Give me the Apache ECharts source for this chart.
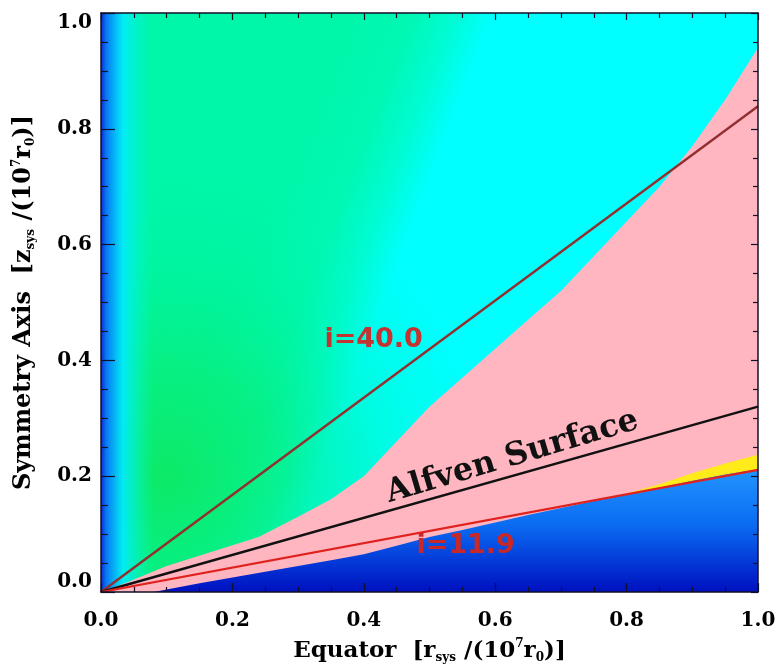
<!DOCTYPE html>
<html>
<head>
<meta charset="utf-8">
<script src="https://cdn.jsdelivr.net/npm/echarts@6/dist/echarts.min.js"></script>
<style>
html,body{margin:0;padding:0;background:#fff;}
#chart{width:781px;height:667px;}
</style>
</head>
<body>
<div id="chart"></div>
<script>
// ---- data ----
var xTicks = [0.0, 0.2, 0.4, 0.6, 0.8, 1.0];
var yTicks = [0.0, 0.2, 0.4, 0.6, 0.8, 1.0];
// full-domain background extent
var bgX = [0, 1];
var bgY = [1, 1];
// thin strip along the symmetry axis
var stripX = [0, 0.08];
var stripY = [1, 1];
// upper boundary of the pink region
var pinkX = [0, 0.04, 0.10, 0.17, 0.24, 0.30, 0.35, 0.40, 0.45, 0.50, 0.55, 0.60, 0.65, 0.70, 0.75, 0.80, 0.85, 0.90, 0.95, 1.00];
var pinkY = [0, 0.017, 0.045, 0.07, 0.095, 0.13, 0.16, 0.20, 0.26, 0.32, 0.37, 0.42, 0.47, 0.52, 0.58, 0.64, 0.70, 0.77, 0.85, 0.94];
// upper boundary of the yellow sliver
var yellowX = [0.76, 0.80, 0.85, 0.90, 0.95, 1.00];
var yellowY = [0.158, 0.170, 0.186, 0.205, 0.222, 0.237];
// upper boundary of the blue region
var blueX = [0.08, 0.15, 0.20, 0.25, 0.30, 0.35, 0.40, 0.45, 0.50, 0.55, 0.60, 0.65, 0.70, 0.75, 0.80, 0.85, 0.90, 0.95, 1.00];
var blueY = [0, 0.015, 0.025, 0.035, 0.045, 0.055, 0.065, 0.08, 0.095, 0.107, 0.12, 0.133, 0.145, 0.157, 0.168, 0.18, 0.192, 0.203, 0.212];
// straight lines through the origin
var lineX = [0, 1];
var line40Y = [0, 0.839];
var alfvenY = [0, 0.32];
var line119Y = [0, 0.211];

function pairs(xs, ys) { return xs.map(function (x, i) { return [x, ys[i]]; }); }

var chart = echarts.init(document.getElementById('chart'), null, {renderer: 'canvas'});

var tickFont = {fontFamily: 'DejaVu Serif', fontWeight: 'bold', fontSize: 20, color: '#000'};
var richName = {
  s: {fontFamily: 'DejaVu Serif', fontWeight: 'bold', fontSize: 12, verticalAlign: 'bottom', color: '#000'},
  p: {fontFamily: 'DejaVu Serif', fontWeight: 'bold', fontSize: 12, verticalAlign: 'top', color: '#000'}
};
var axisColor = '#101028';

function areaSeries(name, data, fill) {
  return {
    name: name, type: 'line', data: data, showSymbol: false, symbol: 'none',
    silent: true, lineStyle: {width: 0, opacity: 0},
    areaStyle: {color: fill, opacity: 1, origin: 'start'},
    z: 1
  };
}
function labelPoint(text, coord, style) {
  return {
    symbol: 'circle', symbolSize: 1, itemStyle: {color: 'rgba(0,0,0,0)'}, silent: true,
    label: Object.assign({show: true, position: 'inside', formatter: text}, style),
    data: [{coord: coord}]
  };
}

var option = {
  animation: false,
  backgroundColor: '#fff',
  grid: {left: 101, right: 23, top: 13, bottom: 75, containLabel: false, outerBoundsMode: 'none'},
  xAxis: [{
    type: 'value', min: 0, max: 1, interval: 0.2, position: 'bottom',
    axisLine: {show: true, onZero: false, lineStyle: {color: axisColor, width: 1.5}},
    axisTick: {show: true, inside: true, length: 9, lineStyle: {color: axisColor, width: 1.2}},
    minorTick: {show: true, splitNumber: 4, length: 5, lineStyle: {color: axisColor, width: 1.2}},
    splitLine: {show: false},
    axisLabel: Object.assign({margin: 19, formatter: function (v) { return v.toFixed(1); }}, tickFont),
    name: 'Equator  [r{s|sys} /(10{p|7}r{s|0})]',
    nameLocation: 'middle', nameGap: 46,
    nameTextStyle: {fontFamily: 'DejaVu Serif', fontWeight: 'bold', fontSize: 23, color: '#000', lineHeight: 26, rich: richName},
    z: 10
  }, {
    type: 'value', min: 0, max: 1, interval: 0.2, position: 'top',
    axisLine: {show: true, onZero: false, lineStyle: {color: axisColor, width: 1.5}},
    axisTick: {show: true, inside: true, length: 7, lineStyle: {color: axisColor, width: 1.2}},
    minorTick: {show: true, splitNumber: 4, length: 5, lineStyle: {color: axisColor, width: 1.2}},
    splitLine: {show: false}, axisLabel: {show: false}, z: 10
  }],
  yAxis: [{
    type: 'value', min: 0, max: 1, interval: 0.2, position: 'left',
    axisLine: {show: true, onZero: false, lineStyle: {color: axisColor, width: 1.5}},
    axisTick: {show: true, inside: true, length: 14, lineStyle: {color: axisColor, width: 1.2}},
    minorTick: {show: true, splitNumber: 4, length: 7, lineStyle: {color: axisColor, width: 1.2}},
    splitLine: {show: false},
    axisLabel: Object.assign({margin: 9, verticalAlignMinLabel: 'bottom', verticalAlignMaxLabel: 'top',
      formatter: function (v) { return v.toFixed(1); }}, tickFont),
    name: 'Symmetry Axis  [z{s|sys} /(10{p|7}r{s|0})]',
    nameLocation: 'middle', nameGap: 64,
    nameTextStyle: {fontFamily: 'DejaVu Serif', fontWeight: 'bold', fontSize: 24, color: '#000', lineHeight: 26, rich: richName},
    z: 10
  }, {
    type: 'value', min: 0, max: 1, interval: 0.2, position: 'right',
    axisLine: {show: true, onZero: false, lineStyle: {color: axisColor, width: 1.5}},
    axisTick: {show: true, inside: true, length: 7, lineStyle: {color: axisColor, width: 1.2}},
    minorTick: {show: true, splitNumber: 4, length: 5, lineStyle: {color: axisColor, width: 1.2}},
    splitLine: {show: false}, axisLabel: {show: false}, z: 10
  }],
  series: [
    areaSeries('background', pairs(bgX, bgY), new echarts.graphic.LinearGradient(0.2, 0.5, 0.626, 0.684, [
      {offset: 0, color: '#00f6a8'},
      {offset: 0.22, color: '#00f8b4'},
      {offset: 0.36, color: '#00fcd6'},
      {offset: 0.47, color: '#00ffff'},
      {offset: 1, color: '#00ffff'}
    ])),
    areaSeries('greenGlow', pairs(bgX, bgY), new echarts.graphic.RadialGradient(0.1, 0.8, 0.55, [
      {offset: 0, color: 'rgba(14,232,96,0.9)'},
      {offset: 0.35, color: 'rgba(10,236,112,0.65)'},
      {offset: 0.7, color: 'rgba(0,242,140,0.22)'},
      {offset: 1, color: 'rgba(0,248,170,0)'}
    ])),
    areaSeries('axisStrip', pairs(stripX, stripY), new echarts.graphic.LinearGradient(0, 0, 1, 0, [
      {offset: 0, color: 'rgba(10,45,210,1)'},
      {offset: 0.1, color: 'rgba(10,120,245,1)'},
      {offset: 0.42, color: 'rgba(0,235,255,0.9)'},
      {offset: 1, color: 'rgba(0,250,200,0)'}
    ])),
    areaSeries('pink', pairs(pinkX, pinkY), '#ffb6c1'),
    areaSeries('yellow', pairs(yellowX, yellowY), '#ffea1a'),
    areaSeries('blue', pairs(blueX, blueY), new echarts.graphic.LinearGradient(0, 0, 0, 1, [
      {offset: 0, color: '#2294ff'},
      {offset: 0.45, color: '#0a6cf2'},
      {offset: 1, color: '#0010c0'}
    ])),
    {
      name: 'i=40.0', type: 'line', data: pairs(lineX, line40Y), showSymbol: false, symbol: 'none',
      lineStyle: {color: '#922f2f', width: 2.4}, z: 5, silent: true,
      markPoint: labelPoint('i=40.0', [0.415, 0.436],
        {fontFamily: 'DejaVu Sans', fontWeight: 'bold', fontSize: 27, color: '#c43232'})
    },
    {
      name: 'Alfven', type: 'line', data: pairs(lineX, alfvenY), showSymbol: false, symbol: 'none',
      lineStyle: {color: '#111111', width: 2.4}, z: 5, silent: true,
      markPoint: labelPoint('Alfven Surface', [0.626, 0.233],
        {rotate: 16.5, fontFamily: 'DejaVu Serif', fontWeight: 'bold', fontSize: 32, color: '#111'})
    },
    {
      name: 'i=11.9', type: 'line', data: pairs(lineX, line119Y), showSymbol: false, symbol: 'none',
      lineStyle: {color: '#e0221e', width: 2.2}, z: 5, silent: true,
      markPoint: labelPoint('i=11.9', [0.555, 0.08],
        {fontFamily: 'DejaVu Sans', fontWeight: 'bold', fontSize: 27, color: '#c82828'})
    }
  ]
};
chart.setOption(option);
</script>
</body>
</html>
